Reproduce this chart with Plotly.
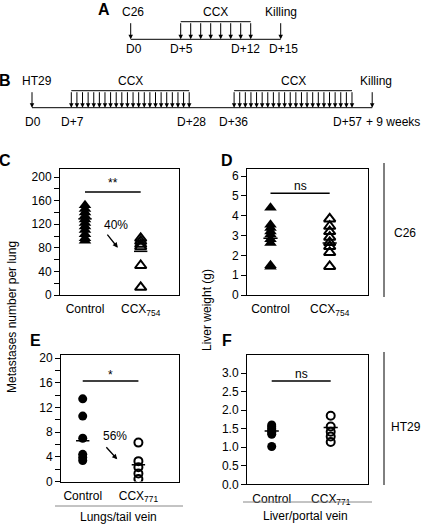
import plotly.graph_objects as go

W, H = 423, 524
FONT = "Liberation Sans, Arial, sans-serif"

# ---------------- data ----------------
# Panel C: metastases number per lung (C26)
c_ctrl = [152, 146, 140, 134, 128, 122, 116, 110, 103, 96, 92]
c_ccx = [96, 91, 86, 82, 50, 13]
c_means = [129, 74]
# Panel D: liver weight (C26)
d_ctrl = [4.4, 3.55, 3.38, 3.2, 3.05, 2.82, 2.62, 1.5, 1.42]
d_ccx = [3.84, 3.47, 3.2, 2.92, 2.65, 2.45, 2.15, 1.44]
d_means = [2.87, 2.62]
# Panel E: metastases number per lung (HT29)
e_ctrl = [13.4, 10.6, 7.0, 4.4, 3.9, 3.4]
e_ccx = [6.3, 3.3, 2.3, 1.3, 0.4]
e_means = [6.6, 2.7]
# Panel F: liver weight (HT29)
f_ctrl = [1.6, 1.55, 1.5, 1.45, 1.4, 1.35, 1.02]
f_ccx = [1.85, 1.56, 1.42, 1.29, 1.14]
f_means = [1.44, 1.53]

groups = ["Control", "CCX"]
sub_cd = "<sub>754</sub>"
sub_ef = "<sub>771</sub>"

# Timeline A
a_inject_day = 0
a_ccx_days = [5, 6, 7, 8, 9, 10, 11, 12]
a_kill_day = 15
a_label_days = [0, 5, 12, 15]
a_labels = ["D0", "D+5", "D+12", "D+15"]
# Timeline B
b_inject_day = 0
b_ccx_days1 = [7, 8, 9, 10, 11, 12, 13, 14, 15, 16, 17, 18, 19, 20, 21, 22, 23, 24, 25, 26, 27, 28]
b_ccx_days2 = [36, 37, 38, 39, 40, 41, 42, 43, 44, 45, 46, 47, 48, 49, 50, 51, 52, 53, 54, 55, 56, 57]
b_kill_pos = 60.6  # schematic (D+57 + 9 weeks)
b_label_days = [0, 7, 28, 36, 57]
b_labels = ["D0", "D+7", "D+28", "D+36", "D+57"]


def px(x):
    return x / W


def py(y):
    return 1 - y / H


fig = go.Figure()

panels = [
    (c_ctrl, c_ccx, c_means, "x", "y", "triangle-up", sub_cd),
    (d_ctrl, d_ccx, d_means, "x2", "y2", "triangle-up", sub_cd),
    (e_ctrl, e_ccx, e_means, "x3", "y3", "circle", sub_ef),
    (f_ctrl, f_ccx, f_means, "x4", "y4", "circle", sub_ef),
]

for ctrl, ccx, means, xa, ya, sym, sub in panels:
    tri = sym == "triangle-up"
    sz = 11 if tri else 9
    fig.add_trace(go.Scatter(
        x=[0] * len(ctrl), y=ctrl, mode="markers", xaxis=xa, yaxis=ya,
        marker=dict(symbol=sym, size=sz, color="black", line=dict(width=0)),
        showlegend=False, hoverinfo="skip"))
    fig.add_trace(go.Scatter(
        x=[1] * len(ccx), y=ccx, mode="markers", xaxis=xa, yaxis=ya,
        marker=dict(symbol=sym + "-open", size=sz - 1, color="black",
                    line=dict(width=2, color="black")),
        showlegend=False, hoverinfo="skip"))
    for i, m in enumerate(means):
        fig.add_trace(go.Scatter(
            x=[i - 0.12, i + 0.12], y=[m, m], mode="lines", xaxis=xa, yaxis=ya,
            line=dict(color="black", width=1.5), showlegend=False, hoverinfo="skip"))

# ---------------- axes ----------------
axis_font = dict(family=FONT, size=12, color="black")


def xax(domain, rng, anchor, sub):
    return dict(domain=domain, range=rng, anchor=anchor, showgrid=False, zeroline=False,
                showline=True, mirror=True, linecolor="black", linewidth=1,
                tickvals=[0, 1], ticktext=["Control", "CCX" + sub], ticks="",
                ticklabelstandoff=3,
                tickfont=axis_font, fixedrange=True, automargin=False)


def yax(domain, rng, anchor, dtick, minor, fmt=None):
    d = dict(domain=domain, range=rng, anchor=anchor, showgrid=False, zeroline=False,
             showline=True, mirror=True, linecolor="black", linewidth=1,
             ticks="outside", ticklen=5, tickcolor="black", tickwidth=1,
             dtick=dtick, tick0=0, tickfont=axis_font, fixedrange=True, automargin=False)
    if minor:
        d["minor"] = dict(dtick=minor, ticks="outside", ticklen=5, tickcolor="black", tickwidth=1)
    if fmt:
        d["tickformat"] = fmt
    return d


def hidden(domain, rng, anchor):
    return dict(domain=domain, range=rng, anchor=anchor, visible=False, fixedrange=True,
                automargin=False, showgrid=False, zeroline=False)


layout = dict(
    template="none",
    width=W, height=H, margin=dict(l=0, r=0, t=0, b=0, pad=0, autoexpand=False),
    paper_bgcolor="white", plot_bgcolor="white", showlegend=False,
    font=dict(family=FONT, size=12, color="black"),
    xaxis=xax([px(60), px(179)], [-0.449, 1.688], "y", sub_cd),
    yaxis=yax([py(295), py(169)], [0, 213.6], "x", 40, 20),
    xaxis2=xax([px(247), px(367.5)], [-0.397, 1.639], "y2", sub_cd),
    yaxis2=yax([py(295), py(169)], [0, 6.36], "x2", 1, None),
    xaxis3=xax([px(61), px(178.5)], [-0.39, 1.72], "y3", sub_ef),
    yaxis3=yax([py(481.5), py(355)], [0, 20.5], "x3", 4, 2),
    xaxis4=xax([px(247), px(367.5)], [-0.419, 1.624], "y4", sub_ef),
    yaxis4=yax([py(484.3), py(355)], [0, 3.49], "x4", 0.5, None, ".1f"),
    xaxis5=hidden([0, 1], [-13.07, 29.23], "y5"),
    yaxis5=hidden([py(60), py(0)], [-1.176, 2.233], "x5"),
    xaxis6=hidden([0, 1], [-5.70, 69.65], "y6"),
    yaxis6=hidden([py(135), py(65)], [-1.606, 2.512], "x6"),
)
fig.update_layout(**layout)

annotations = []
shapes = []


def arrow(xr, yr, x, y_tip=0, y_tail=1):
    annotations.append(dict(
        x=x, y=y_tip, ax=x, ay=y_tail, xref=xr, yref=yr, axref=xr, ayref=yr,
        text="", showarrow=True, arrowhead=2, arrowsize=0.9, arrowwidth=1,
        arrowcolor="black", standoff=0))


def text(x, y, t, xref="paper", yref="paper", size=12, **kw):
    d = dict(x=x, y=y, xref=xref, yref=yref, text=t, showarrow=False,
             xanchor="center", yanchor="middle",
             font=dict(family=FONT, size=size, color="black"))
    d.update(kw)
    annotations.append(d)


# ---------------- timeline A ----------------
shapes.append(dict(type="line", xref="x5", yref="y5", x0=a_inject_day, x1=a_kill_day, y0=0, y1=0,
                   line=dict(color="black", width=1)))
shapes.append(dict(type="line", xref="x5", yref="y5", x0=a_ccx_days[0], x1=a_ccx_days[-1], y0=1, y1=1,
                   line=dict(color="black", width=1)))
arrow("x5", "y5", a_inject_day)
for d in a_ccx_days:
    arrow("x5", "y5", d)
arrow("x5", "y5", a_kill_day)
text(a_inject_day, 1.55, "C26", "x5", "y5", xshift=2)
text((a_ccx_days[0] + a_ccx_days[-1]) / 2, 1.55, "CCX", "x5", "y5")
text(a_kill_day, 1.55, "Killing", "x5", "y5")
shifts_a = [3, 1, -5, 3]
for d, lab, s in zip(a_label_days, a_labels, shifts_a):
    text(d, -0.57, lab, "x5", "y5", xshift=s)
text(px(104), py(10), "<b>A</b>", size=16)

# ---------------- timeline B ----------------
shapes.append(dict(type="line", xref="x6", yref="y6", x0=b_inject_day, x1=b_kill_pos, y0=0, y1=0,
                   line=dict(color="black", width=1)))
for seg in (b_ccx_days1, b_ccx_days2):
    shapes.append(dict(type="line", xref="x6", yref="y6", x0=seg[0], x1=seg[-1], y0=1, y1=1,
                       line=dict(color="black", width=1)))
    for d in seg:
        arrow("x6", "y6", d)
    text((seg[0] + seg[-1]) / 2, 1.57, "CCX", "x6", "y6")
arrow("x6", "y6", b_inject_day)
arrow("x6", "y6", b_kill_pos)
text(b_inject_day, 1.57, "HT29", "x6", "y6", xshift=5)
text(b_kill_pos, 1.57, "Killing", "x6", "y6", xshift=4)
shifts_b = [1, 1, 2, -1, -4]
for d, lab, s in zip(b_label_days, b_labels, shifts_b):
    text(d, -0.82, lab, "x6", "y6", xshift=s)
text(px(422), py(121.7), "+ 9 weeks", xanchor="right")
text(px(5), py(80), "<b>B</b>", size=16)

# ---------------- significance bars ----------------
sig = [("x", "y", 174.6, 190, "**"), ("x2", "y2", 5.13, 5.5, "ns"),
       ("x3", "y3", 16.3, 17.3, "*"), ("x4", "y4", 2.79, 2.97, "ns")]
for xr, yr, yl, yt, t in sig:
    shapes.append(dict(type="line", xref=xr, yref=yr, x0=0, x1=1, y0=yl, y1=yl,
                       line=dict(color="black", width=1.5)))
    text(0.5, yt, t, xr, yr)

# percentage reduction arrows
annotations.append(dict(x=0.59, y=80, ax=0.38, ay=105, xref="x", yref="y", axref="x", ayref="y",
                        text="", showarrow=True, arrowhead=2, arrowsize=0.8, arrowwidth=1.3,
                        arrowcolor="black", standoff=0))
text(0.55, 118, "40%", "x", "y")
annotations.append(dict(x=0.62, y=3.6, ax=0.40, ay=5.8, xref="x3", yref="y3", axref="x3", ayref="y3",
                        text="", showarrow=True, arrowhead=2, arrowsize=0.8, arrowwidth=1.3,
                        arrowcolor="black", standoff=0))
text(0.58, 7.3, "56%", "x3", "y3")

# panel letters
text(px(5), py(160), "<b>C</b>", size=16)
text(px(227), py(160), "<b>D</b>", size=16)
text(px(35), py(340), "<b>E</b>", size=16)
text(px(227), py(340), "<b>F</b>", size=16)

# y-axis titles
text(px(12), py(317), "Metastases number per lung", textangle=-90)
text(px(207), py(310), "Liver weight (g)", textangle=-90)

# right brackets
shapes.append(dict(type="line", xref="paper", yref="paper", x0=px(384), x1=px(384), y0=py(163), y1=py(297),
                   line=dict(color="black", width=1)))
shapes.append(dict(type="line", xref="paper", yref="paper", x0=px(384), x1=px(384), y0=py(352), y1=py(485),
                   line=dict(color="black", width=1)))
text(px(405), py(233), "C26")
text(px(406), py(427), "HT29")

# bottom group labels
shapes.append(dict(type="line", xref="paper", yref="paper", x0=px(55), x1=px(183), y0=py(506), y1=py(506),
                   line=dict(color="#888888", width=1)))
shapes.append(dict(type="line", xref="paper", yref="paper", x0=px(243), x1=px(372), y0=py(502), y1=py(502),
                   line=dict(color="#888888", width=1)))
text(px(118), py(517), "Lungs/tail vein")
text(px(305), py(516), "Liver/portal vein")

fig.update_layout(annotations=annotations, shapes=shapes)
fig.write_html("out.html", config={"displayModeBar": False},
               post_script="document.body.style.margin='0';document.body.style.padding='0';")
